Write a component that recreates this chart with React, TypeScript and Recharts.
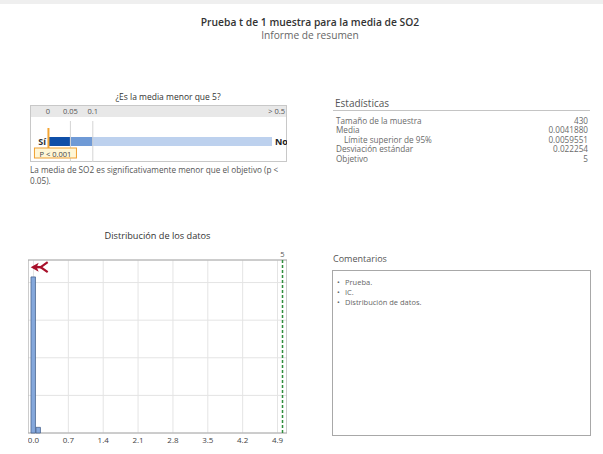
import React from 'react';
import {
  BarChart,
  Bar,
  XAxis,
  YAxis,
  CartesianGrid,
  ReferenceLine,
  ReferenceDot,
  ReferenceArea,
} from 'recharts';

const FONT = '"Open Sans", "Noto Sans", "DejaVu Sans", sans-serif';

// Report header
const reportTitle = 'Prueba t de 1 muestra para la media de SO2';
const reportSubtitle = 'Informe de resumen';

// p-value scale: segment widths along 0 … > 0.5
const pQuestion = '¿Es la media menor que 5?';
const pScaleTicks = [0, 0.05, 0.1, 0.5];
const pTickLabels = ['0', '0.05', '0.1', '> 0.5'];
const pSegments = [0.05, 0.05, 0.4];
const pSegmentColors = ['#0f4fa8', '#6f9ad6', '#bdd1ee'];
const pEnds = ['Sí', 'No'];
const pValue = 0.001;
const pValueLabel = 'P < 0.001';
const conclusionLines = [
  'La media de SO2 es significativamente menor que el objetivo (p <',
  '0.05).',
];

// Summary statistics
const statsTitle = 'Estadísticas';
const statLabels = [
  'Tamaño de la muestra',
  'Media',
  'Límite superior de 95%',
  'Desviación estándar',
  'Objetivo',
];
const statIndent = [false, false, true, false, false];
const statValues = ['430', '0.0041880', '0.0059551', '0.022254', '5'];

// Histogram of the data
const histTitle = 'Distribución de los datos';
const binCenters = [0.0, 0.1];
const binCounts = [415, 15];
const histTicks = [0.0, 0.7, 1.4, 2.1, 2.8, 3.5, 4.2, 4.9];
const countGrid = [100, 200, 300, 400];
const countMax = 460;
const xDomain = [-0.11, 5.09];
const target = 5;
const sampleMean = 0.004188;
const ciMarkerLevel = 441;

// Comments
const commentsTitle = 'Comentarios';
const comments = ['Prueba.', 'IC.', 'Distribución de datos.'];

const pRow = [
  pSegments.reduce(
    (row, v, i) => ({ ...row, [`s${i}`]: v }),
    { name: 'p' } as Record<string, number | string>
  ),
];

const histData = binCenters.map((x, i) => ({ x, count: binCounts[i] }));

const txt = (
  left: number,
  top: number,
  size: number,
  extra: React.CSSProperties = {}
): React.CSSProperties => ({
  position: 'absolute',
  left,
  top,
  fontSize: size,
  lineHeight: 1,
  fontFamily: FONT,
  whiteSpace: 'nowrap',
  ...extra,
});

function PTick(props: any) {
  const { x, y, payload } = props;
  const idx = pScaleTicks.indexOf(payload.value);
  const last = idx === pScaleTicks.length - 1;
  return (
    <text
      x={last ? x + 13 : x}
      y={y - 10}
      textAnchor={last ? 'end' : 'middle'}
      dominantBaseline="central"
      fontSize={7.5}
      fontFamily={FONT}
      fill="#555"
    >
      {pTickLabels[idx]}
    </text>
  );
}

function PMarker(props: any) {
  const { x1, y1 } = props;
  const x = x1;
  const top = y1 + 7;
  return (
    <g>
      <line x1={x} x2={x} y1={top} y2={top + 20} stroke="#f4a533" strokeWidth={2} />
      <rect x={x - 14} y={top + 20} width={42} height={10} fill="#fff6d6" stroke="#f0a030" strokeWidth={1} />
      <text
        x={x + 7}
        y={top + 25.5}
        textAnchor="middle"
        dominantBaseline="central"
        fontSize={7.5}
        fontFamily={FONT}
        fill="#444"
      >
        {pValueLabel}
      </text>
    </g>
  );
}

function CiMarker(props: any) {
  const { cx, cy } = props;
  const red = '#a8102a';
  return (
    <g>
      <polygon points={`${cx - 3},${cy} ${cx + 5},${cy - 4.5} ${cx + 3},${cy} ${cx + 5},${cy + 4.5}`} fill={red} />
      <line x1={cx} x2={cx + 8} y1={cy} y2={cy} stroke={red} strokeWidth={2.4} />
      <polyline
        points={`${cx + 14},${cy - 5} ${cx + 7},${cy} ${cx + 14},${cy + 5}`}
        fill="none"
        stroke={red}
        strokeWidth={2.2}
      />
    </g>
  );
}

function PValueBar() {
  return (
    <BarChart
      width={257}
      height={57}
      data={pRow}
      layout="vertical"
      margin={{ top: 0, right: 15, bottom: 0, left: 18 }}
    >
      <XAxis
        type="number"
        orientation="top"
        domain={[0, 0.5]}
        ticks={pScaleTicks}
        interval={0}
        height={16}
        tickLine={false}
        axisLine={false}
        tickSize={0}
        tickMargin={0}
        tick={<PTick />}
        allowDataOverflow
      />
      <YAxis type="category" dataKey="name" hide />
      <ReferenceLine x={0.05} stroke="#d4d4d4" />
      <ReferenceLine x={0.1} stroke="#d4d4d4" />
      {pSegments.map((_, i) => (
        <Bar
          key={i}
          dataKey={`s${i}`}
          stackId="p"
          barSize={9}
          fill={pSegmentColors[i]}
          isAnimationActive={false}
          label={
            i === 0
              ? (lp: any) => (
                  <text
                    x={lp.x - 2}
                    y={lp.y + lp.height / 2}
                    textAnchor="end"
                    dominantBaseline="central"
                    fontSize={9}
                    fontWeight={700}
                    fontFamily={FONT}
                    fill="#333"
                  >
                    {pEnds[0]}
                  </text>
                )
              : i === pSegments.length - 1
              ? (lp: any) => (
                  <text
                    x={lp.x + lp.width + 3}
                    y={lp.y + lp.height / 2}
                    textAnchor="start"
                    dominantBaseline="central"
                    fontSize={9}
                    fontWeight={700}
                    fontFamily={FONT}
                    fill="#222"
                  >
                    {pEnds[1]}
                  </text>
                )
              : undefined
          }
        />
      ))}
      <ReferenceLine x={pValue} shape={<PMarker />} />
    </BarChart>
  );
}

function Histogram() {
  return (
    <BarChart
      width={259}
      height={198}
      data={histData}
      margin={{ top: 10, right: 0, bottom: 0, left: 0 }}
    >
      <CartesianGrid stroke="#e4e4e4" />
      <XAxis
        type="number"
        dataKey="x"
        domain={xDomain}
        ticks={histTicks}
        interval={0}
        tickFormatter={(v: number) => v.toFixed(1)}
        height={15}
        tickLine={false}
        axisLine={false}
        tickSize={0}
        tickMargin={4}
        tick={{ fontSize: 8, fill: '#444', fontFamily: FONT }}
        allowDataOverflow
      />
      <YAxis type="number" domain={[0, countMax]} ticks={countGrid} hide />
      <Bar
        dataKey="count"
        barSize={5}
        fill="#85a8dc"
        stroke="#4a6690"
        strokeWidth={0.8}
        isAnimationActive={false}
      />
      <ReferenceArea
        x1={xDomain[0]}
        x2={xDomain[1]}
        y1={0}
        y2={countMax}
        fill="none"
        fillOpacity={0}
        stroke="#a8a8a8"
        ifOverflow="visible"
      />
      <ReferenceLine
        x={target}
        stroke="#2f8d3c"
        strokeWidth={1.5}
        strokeDasharray="3 2"
        label={{ value: String(target), position: 'top', fontSize: 7.5, fill: '#555', offset: 3 }}
        ifOverflow="visible"
      />
      <ReferenceDot
        x={sampleMean}
        y={ciMarkerLevel}
        shape={<CiMarker />}
        ifOverflow="visible"
      />
    </BarChart>
  );
}

export default function App() {
  return (
    <div
      style={{
        position: 'absolute',
        left: 0,
        top: 0,
        width: 603,
        height: 454,
        background: '#fff',
        overflow: 'hidden',
        fontFamily: FONT,
      }}
    >
      <div style={{ position: 'absolute', left: 0, top: 0, width: 603, height: 4, background: '#efefef' }} />

      {/* Header */}
      <div style={txt(0, 17, 10.3, { width: 620, textAlign: 'center', fontWeight: 600, color: '#333' })}>
        {reportTitle}
      </div>
      <div style={txt(0, 30, 10.2, { width: 620, textAlign: 'center', color: '#666' })}>
        {reportSubtitle}
      </div>

      {/* p-value panel */}
      <div style={txt(38, 92.5, 8.5, { width: 260, textAlign: 'center', color: '#333' })}>{pQuestion}</div>
      <div
        style={{
          position: 'absolute',
          left: 30,
          top: 105,
          width: 257,
          height: 57,
          border: '1px solid #c8c8c8',
          boxSizing: 'border-box',
        }}
      />
      <div style={{ position: 'absolute', left: 31, top: 106, width: 255, height: 11, background: '#e8e8e8' }} />
      <div style={{ position: 'absolute', left: 30, top: 105 }}>
        <PValueBar />
      </div>
      {conclusionLines.map((line, i) => (
        <div key={i} style={txt(30, 166 + i * 10.5, 8.2, { color: '#555' })}>
          {line}
        </div>
      ))}

      {/* Statistics */}
      <div style={txt(335, 98, 10, { color: '#555' })}>{statsTitle}</div>
      <div style={{ position: 'absolute', left: 333, top: 110, width: 257, height: 1, background: '#c4c4c4' }} />
      {statLabels.map((label, i) => (
        <React.Fragment key={label}>
          <div style={txt(statIndent[i] ? 344 : 336, 116.5 + i * 9.6, 8.2, { color: '#6a6a6a' })}>{label}</div>
          <div style={txt(488, 116.5 + i * 9.6, 8.2, { width: 100, textAlign: 'right', color: '#6a6a6a' })}>
            {statValues[i]}
          </div>
        </React.Fragment>
      ))}

      {/* Data distribution */}
      <div style={txt(28, 231, 9.2, { width: 259, textAlign: 'center', color: '#333' })}>{histTitle}</div>
      <div style={{ position: 'absolute', left: 28, top: 250 }}>
        <Histogram />
      </div>

      {/* Comments */}
      <div style={txt(333, 254, 9, { color: '#555' })}>{commentsTitle}</div>
      <div
        style={{
          position: 'absolute',
          left: 332,
          top: 270,
          width: 259,
          height: 166,
          border: '1px solid #a8a8a8',
          boxSizing: 'border-box',
        }}
      />
      {comments.map((c, i) => (
        <div key={c} style={txt(337, 279 + i * 10, 7.5, { color: '#666' })}>
          <span style={{ display: 'inline-block', width: 8 }}>•</span>
          {c}
        </div>
      ))}
    </div>
  );
}
